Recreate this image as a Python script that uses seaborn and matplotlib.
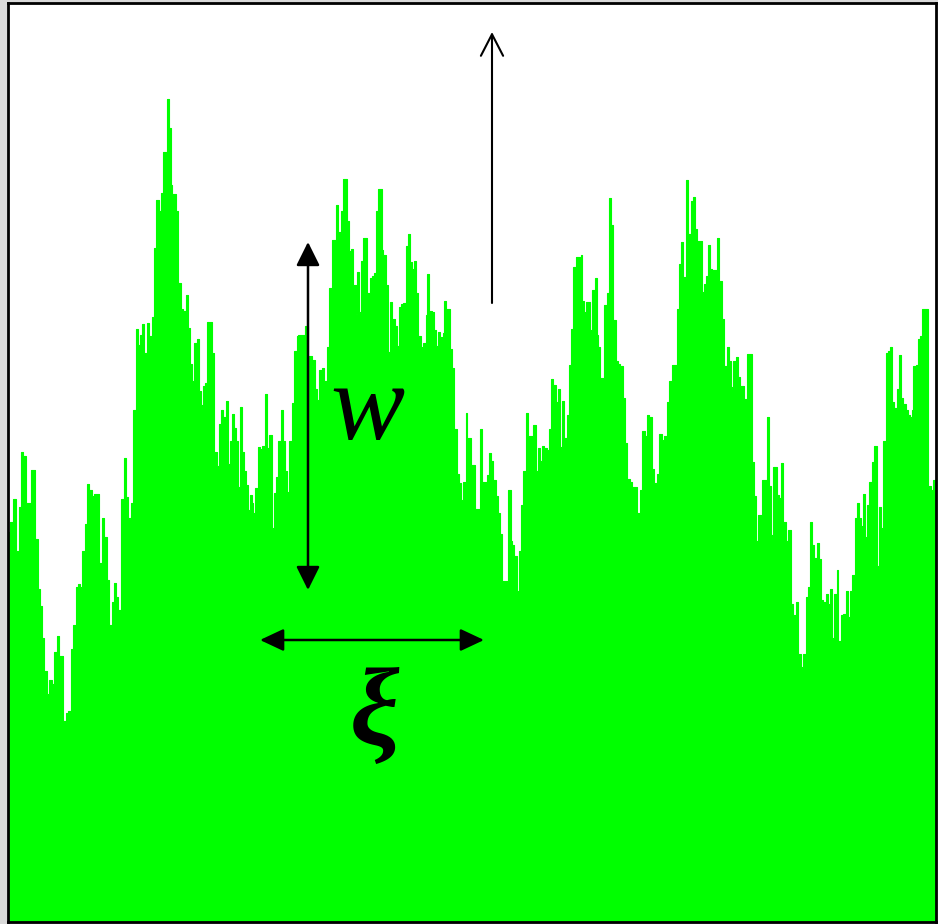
import matplotlib
matplotlib.use("Agg")
import matplotlib.pyplot as plt
import seaborn as sns

# surface profile: (position, height), step starts
surface = [
    (8, 390), (10, 400), (13.3, 423), (15.7, 371), (19, 415), (21, 470), (23.3, 466),
    (25.7, 419), (30.7, 452), (35, 383), (37.7, 333), (40, 316), (42.3, 284), (44.3, 251),
    (46.7, 228), (49.3, 242), (51.7, 238), (54.3, 270), (56.7, 286), (59, 266), (63.3, 201),
    (65.7, 209), (67.7, 211), (70.7, 273), (73.3, 297), (75.7, 335), (78.3, 338), (80, 335),
    (82.3, 371), (85, 398), (87.3, 438), (89.3, 432), (91.7, 426), (94, 428), (99.3, 359),
    (101.7, 404), (104, 385), (106.7, 342), (109, 297), (111.7, 320), (114, 339), (116, 325),
    (118.3, 312), (120.7, 423), (124, 464), (126, 425), (128, 404), (130.7, 419), (133.3, 512),
    (135.7, 593), (137.7, 577), (140, 587), (142.3, 598), (144.3, 569), (146.7, 599), (149, 586),
    (151.7, 605), (154, 674),
    (156, 722), (159, 711), (161, 729), (163.3, 770), (166.7, 823), (169, 794), (170.7, 737),
    (172.3, 728), (176, 711), (178.3, 639), (180.7, 613), (183.3, 611), (185.7, 627), (187.7, 594),
    (190, 558), (192.3, 541), (194.3, 579), (196.7, 583), (199, 531), (201, 517), (202.7, 536),
    (205, 539), (207.3, 600), (211.7, 569), (214.3, 470), (216.7, 456), (219, 498), (221, 512),
    (223.3, 505), (225.7, 521), (227.7, 458), (229.7, 481), (231.7, 508), (233.7, 494), (235.7, 481),
    (237.7, 435), (240, 515), (241.7, 470), (244, 451), (246, 437), (248.3, 412), (250, 427),
    (251.7, 419), (253.3, 409), (255, 434), (257.7, 475), (260, 473), (262.3, 476), (265, 528),
    (267.3, 474), (269.3, 487), (271.7, 394), (274, 429), (276, 445), (278.3, 481), (280.7, 512),
    (283.3, 481), (285, 451), (287.3, 430), (289.3, 481), (291.7, 519), (294.3, 571), (296.7, 586),
    (298.3, 587), (305, 596), (308.3, 566),
    (310, 566), (311.7, 556), (313.3, 562), (315, 533), (316.7, 522), (319.3, 552), (321.7, 554),
    (324, 541), (326.7, 575), (329, 634), (331.7, 682), (336, 717), (338.3, 690), (340.7, 711),
    (342.7, 743), (346.7, 701), (349, 671), (350.7, 673), (353.3, 637), (355.7, 608), (357.3, 650),
    (359, 610), (360.7, 661), (362.7, 684), (367.3, 629), (370, 644), (372.3, 646), (374, 649),
    (376, 711), (378.3, 733), (381.7, 672), (383.3, 667), (386, 637), (388.3, 570), (390, 620),
    (392.3, 603), (395, 596), (397.3, 576), (399, 615), (400.7, 618), (403.3, 619), (405.7, 676),
    (407.7, 688), (410, 660), (412, 653), (414, 661), (416, 629), (418.3, 586), (421, 575),
    (423.3, 579), (425.7, 607), (427.3, 648), (429.3, 611), (431.7, 610), (434, 592), (436, 576),
    (438, 590), (440, 585), (442.7, 589), (444.3, 621), (446, 613), (450, 573), (452.3, 554),
    (454.3, 493), (456.7, 448), (459, 439), (461, 422), (463.3, 440), (465.7, 509),
    (466.7, 482), (468.3, 484), (470.7, 457), (475, 413), (480, 493), (482.3, 440), (486.7, 447),
    (489, 469), (491, 461), (493.3, 442), (495.7, 426), (497.7, 409), (500, 388), (502.3, 341),
    (508.3, 432), (510.7, 381), (512.3, 377), (514.3, 366), (516.7, 331), (519, 371), (521, 417),
    (523.3, 451), (525.7, 509), (527.7, 486), (533.3, 497), (535.7, 451), (537.7, 474), (540, 461),
    (542.3, 476), (544.3, 474), (546.7, 472), (549, 493), (551, 543), (553.3, 537), (555.7, 520),
    (557.7, 533), (560, 475), (561.7, 521), (564.3, 484), (566.7, 507), (569, 557), (571, 593),
    (573.3, 655), (575.7, 665), (580.7, 667), (582.3, 621), (584.3, 610), (586, 620), (590, 592),
    (592.3, 632), (595, 644), (596.7, 587), (598.3, 575), (600, 544), (604.3, 617), (606.7, 629),
    (609, 724), (611, 697), (613.3, 602), (615.7, 561), (617.7, 558),
    (620, 556), (622.7, 524), (625, 479), (627.3, 443), (630, 440), (632.3, 435), (637.3, 409),
    (640, 432), (642.3, 491), (645, 486), (646.7, 507), (649, 505), (651.7, 453), (654, 439),
    (656.7, 448), (659, 488), (661.7, 482), (664, 486), (666.7, 520), (669, 541), (671.7, 557),
    (676.7, 613), (679, 658), (681, 680), (683.3, 645), (685.7, 742), (688.3, 688), (690.7, 721),
    (692.7, 725), (695, 693), (697.3, 681), (701.7, 630), (704, 638), (706, 646), (708.3, 677),
    (710, 653), (712.3, 652), (716.7, 684), (719, 641), (721.7, 603), (724, 556), (726.7, 575),
    (729, 561), (731, 535), (733.3, 561), (735.7, 565), (737.7, 545), (740, 536), (744.3, 523),
    (746.7, 568), (751.7, 460), (754, 426), (756, 381), (757.7, 407), (762.3, 442), (766.7, 505),
    (769, 436), (771, 387), (773.3, 455),
    (775, 455), (776.7, 427), (779, 424), (781, 459), (783.3, 400), (785.7, 381), (787.7, 392),
    (791, 318), (793.3, 307), (795.7, 320), (798.3, 268), (800.7, 255), (803.3, 268), (805.7, 325),
    (807.7, 335), (810, 400), (812.3, 377), (814.3, 364), (816.7, 379), (819, 363), (821, 322),
    (823.3, 320), (825.7, 328), (827.7, 318), (830, 333), (832.3, 284), (834.3, 328), (836.7, 352),
    (838.3, 281), (840.7, 307), (843.3, 308), (845.7, 331), (847.7, 305), (850, 331), (852.3, 347),
    (855, 404), (857.3, 419), (859, 404), (861, 396), (862.7, 428), (865, 385), (867.3, 417),
    (869.3, 440), (871.7, 460), (874, 476), (876.7, 356), (879, 415), (881, 394), (883.3, 481),
    (885.7, 569), (887.7, 571), (890, 575), (892.3, 520), (894.3, 514), (896.7, 533), (899, 567),
    (901, 524), (903.3, 518), (905.7, 512), (907.7, 507), (910, 505), (911.7, 512), (913.3, 556),
    (915.7, 557), (917.7, 583), (920, 586), (922.3, 613), (927.7, 434), (929.3, 436), (931, 432),
    (933.3, 442), (935.7, 443),
]

x_min, x_max = 8, 936
y_max = 919

# annotation positions (data units)
width_arrow = (308, 332, 680)     # x, bottom, top
xi_arrow = (260, 484, 282)        # left, right, height
growth_arrow = (492, 619, 890)    # x, bottom, top

sns.set_theme(style="white")

xs = [p[0] for p in surface] + [x_max]
hs = [p[1] for p in surface] + [surface[-1][1]]

fig = plt.figure(figsize=(9.38, 9.24), dpi=100, facecolor="#d9d9d9")
ax = fig.add_axes([8 / 938, 2 / 924, 928 / 938, 919 / 924])
ax.set_facecolor("white")

ax.fill_between(xs, hs, 0, step="post", color="#00ff00", linewidth=0)
sns.lineplot(x=xs, y=hs, drawstyle="steps-post", color="#00ff00", lw=0.8, ax=ax)

ax.set_xlim(x_min, x_max)
ax.set_ylim(0, y_max)
ax.set_xticks([])
ax.set_yticks([])
for s in ax.spines.values():
    s.set_visible(True)
    s.set_color("black")
    s.set_linewidth(2)

# w: vertical double arrow
ax.annotate("", xy=(width_arrow[0], width_arrow[2]), xytext=(width_arrow[0], width_arrow[1]),
            arrowprops=dict(arrowstyle="<|-|>,head_length=1.45,head_width=0.72", mutation_scale=10,
                            lw=1.8, color="black", shrinkA=0, shrinkB=0))
# xi: horizontal double arrow
ax.annotate("", xy=(xi_arrow[1], xi_arrow[2]), xytext=(xi_arrow[0], xi_arrow[2]),
            arrowprops=dict(arrowstyle="<|-|>,head_length=1.45,head_width=0.68", mutation_scale=10,
                            lw=1.8, color="black", shrinkA=0, shrinkB=0))
# growth direction
ax.annotate("", xy=(growth_arrow[0], growth_arrow[2]), xytext=(growth_arrow[0], growth_arrow[1]),
            arrowprops=dict(arrowstyle="->,head_length=1.55,head_width=0.8", mutation_scale=10,
                            lw=1.5, color="black", shrinkA=0, shrinkB=0))

ax.text(367, 510, "w", fontsize=80, style="italic", family="Liberation Serif",
        ha="center", va="center", color="black")
ax.text(375, 205, "ξ", fontsize=80, style="italic", weight="bold", family="Liberation Serif",
        ha="center", va="center", color="black")

fig.savefig("out.png", dpi=100, facecolor=fig.get_facecolor())
